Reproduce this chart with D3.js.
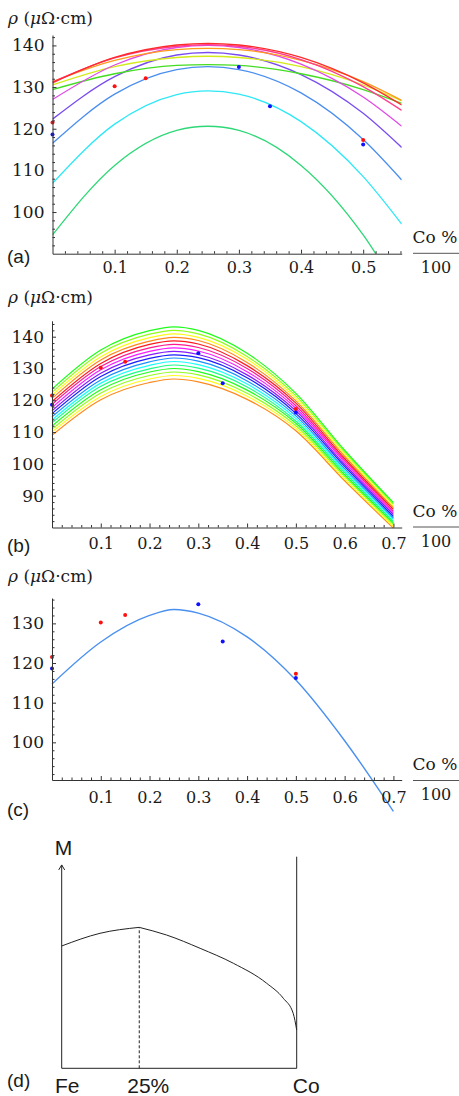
<!DOCTYPE html>
<html><head><meta charset="utf-8">
<script src="https://cdn.jsdelivr.net/npm/d3@7"></script>
<style>
body{margin:0;background:#fff;}
svg{display:block;}
</style></head><body>
<svg id="chart" width="459" height="1096"></svg>
<script>
// ---------------- DATA ----------------
// measured points (same in a, b, c)
const redX  = [0, 0.1, 0.15, 0.5];
const redY  = [121.5, 130.2, 132.1, 117.3];
const blueX = [0, 0.3, 0.35, 0.5];
const blueY = [118.6, 134.8, 125.4, 116.2];

// panel (a)
const xGridA = [0, 0.1, 0.2, 0.25, 0.3, 0.4, 0.5, 0.562];
const curveRedA     = [131.0, 137.1, 140.1, 140.5, 140.1, 137.1, 131.0, 125.7];
const curveRoseA    = [131.2, 137.0, 139.8, 140.2, 139.8, 136.6, 130.1, 124.4];
const curveOrangeA  = [131.3, 136.4, 139.0, 139.3, 139.0, 136.4, 131.3, 126.8];
const curveYellowA  = [130.5, 134.9, 137.1, 137.4, 137.1, 134.9, 130.5, 126.7];
const curveGreenA   = [129.4, 133.2, 135.2, 135.4, 135.2, 133.2, 129.4, 126.1];
const curveMagentaA = [127.0, 135.3, 139.5, 140.0, 139.5, 135.5, 127.6, 120.6];
const curvePurpleA  = [122.3, 132.5, 137.7, 138.3, 137.7, 133.0, 123.7, 115.5];
const curveBlueA    = [116.5, 128.3, 134.2, 134.9, 134.2, 128.6, 117.4, 107.7];
const curveCyanA    = [106.9, 121.1, 128.2, 129.1, 128.3, 121.7, 108.5, 97.1];
const curveSpringA  = [94.5, 111.2, 119.6, 120.6, 119.6, 111.2, 94.5, 79.9];
const xTicksA = [0.1, 0.2, 0.3, 0.4, 0.5];
const yTicksA = [100, 110, 120, 130, 140];

// panel (b): 16 curves, bottom (orange) to top (green)
const xGridB = [0, 0.1, 0.2, 0.25, 0.3, 0.4, 0.5, 0.6, 0.7];
const curvesB = [
  [109.0, 120.2, 125.6, 126.7, 125.8, 120.3, 110.4, 94.7, 79.8],
  [110.0, 121.2, 126.7, 127.8, 126.9, 121.3, 111.2, 95.3, 80.3],
  [110.9, 122.3, 127.8, 128.9, 128.0, 122.2, 112.0, 96.0, 80.9],
  [111.9, 123.3, 128.9, 130.0, 129.0, 123.2, 112.8, 96.6, 81.4],
  [112.9, 124.4, 129.9, 131.1, 130.1, 124.2, 113.5, 97.3, 81.9],
  [113.8, 125.4, 131.0, 132.2, 131.2, 125.1, 114.3, 97.9, 82.5],
  [114.8, 126.4, 132.1, 133.3, 132.3, 126.1, 115.1, 98.5, 83.0],
  [115.8, 127.5, 133.2, 134.3, 133.4, 127.1, 115.9, 99.2, 83.5],
  [116.7, 128.5, 134.3, 135.4, 134.4, 128.0, 116.7, 99.8, 84.1],
  [117.7, 129.6, 135.4, 136.5, 135.5, 129.0, 117.5, 100.5, 84.6],
  [118.7, 130.6, 136.5, 137.6, 136.6, 130.0, 118.3, 101.1, 85.1],
  [119.6, 131.6, 137.6, 138.7, 137.7, 130.9, 119.1, 101.7, 85.7],
  [120.6, 132.7, 138.6, 139.8, 138.8, 131.9, 119.8, 102.4, 86.2],
  [121.6, 133.7, 139.7, 140.9, 139.8, 132.9, 120.6, 103.0, 86.7],
  [122.5, 134.8, 140.8, 142.0, 140.9, 133.8, 121.4, 103.7, 87.3],
  [123.5, 135.8, 141.9, 143.1, 142.0, 134.8, 122.2, 104.3, 87.8]
];
const xTicksB = [0.1, 0.2, 0.3, 0.4, 0.5, 0.6, 0.7];
const yTicksB = [90, 100, 110, 120, 130, 140];

// panel (c)
const xGridC = [0, 0.1, 0.2, 0.25, 0.3, 0.4, 0.5, 0.6, 0.7];
const curveC = [114.7, 125.3, 132.0, 133.5, 132.6, 126.6, 115.7, 100.4, 82.6];
const xTicksC = [0.1, 0.2, 0.3, 0.4, 0.5, 0.6, 0.7];
const yTicksC = [100, 110, 120, 130];

// panel (d): schematic magnetization
const dLeftX  = [0, 0.163, 0.33];
const dLeftM  = [0.578, 0.638, 0.666];
const dRightX = [0.33, 0.446, 0.589, 0.731, 0.872, 0.943, 0.985, 1.0];
const dRightM = [0.666, 0.630, 0.567, 0.496, 0.402, 0.331, 0.260, 0.181];
const dLabels = ["Fe", "25%", "Co"];
const dLabelX = [0, 0.33, 1];

// ---------------- STYLE ----------------
const axisColor = "#333";
const textColor = "#1a1a1a";
const serif = "'DejaVu Serif', serif";
const sans = "'Liberation Sans', Arial, sans-serif";
const colorsA = ["#ff2a2a", "#ff3c8c", "#ff9a1a", "#d4ea1a", "#44dd22",
                 "#e04ae6", "#7a4cf0", "#4a8ef0", "#2ee8f5", "#2ed877"];
const curvesA = [curveRedA, curveRoseA, curveOrangeA, curveYellowA, curveGreenA,
                 curveMagentaA, curvePurpleA, curveBlueA, curveCyanA, curveSpringA];

const svg = d3.select("#chart");

function range(a, b, step) { const r = []; for (let v = a; v <= b + 1e-9; v += step) r.push(+v.toFixed(4)); return r; }
const fmtX = d3.format(".1f");

function drawAxes(g, xS, yS, xTicks, yTicks, xMinor, yMinor, xPad) {
  const yBase = yS.range()[0];
  const x0 = xS(0);
  const xa = g.append("g").attr("transform", `translate(0,${yBase})`)
    .call(d3.axisBottom(xS).tickValues(xTicks).tickFormat(fmtX).tickSizeInner(-4).tickSizeOuter(0).tickPadding(xPad));
  g.append("g").attr("transform", `translate(0,${yBase})`)
    .call(d3.axisBottom(xS).tickValues(xMinor).tickSizeInner(-2.5).tickSizeOuter(0).tickFormat(""))
    .call(s => s.select(".domain").remove());
  const ya = g.append("g").attr("transform", `translate(${x0},0)`)
    .call(d3.axisLeft(yS).tickValues(yTicks).tickFormat(d3.format("d")).tickSizeInner(-4).tickSizeOuter(0).tickPadding(8));
  g.append("g").attr("transform", `translate(${x0},0)`)
    .call(d3.axisLeft(yS).tickValues(yMinor).tickSizeInner(-2.5).tickSizeOuter(0).tickFormat(""))
    .call(s => s.select(".domain").remove());
  g.selectAll(".domain, .tick line").attr("stroke", axisColor).attr("stroke-width", 1);
  xa.selectAll("text").attr("font-family", serif).attr("font-size", 16).attr("fill", textColor);
  ya.selectAll("text").attr("font-family", serif).attr("font-size", 17).attr("fill", textColor);
}

function rhoLabel(y) {
  const t = svg.append("text").attr("x", 8).attr("y", y)
    .attr("font-family", serif).attr("font-size", 17).attr("fill", textColor);
  t.append("tspan").attr("font-style", "italic").text("ρ");
  t.append("tspan").text(" (");
  t.append("tspan").attr("font-style", "italic").text("μ");
  t.append("tspan").text("Ω·cm)");
}

function coFraction(axisY) {
  svg.append("text").attr("x", 435).attr("y", axisY - 16.5).attr("dominant-baseline", "central")
    .attr("text-anchor", "middle").attr("font-family", serif).attr("font-size", 17).attr("fill", textColor)
    .text("Co %");
  svg.append("line").attr("x1", 413).attr("x2", 459).attr("y1", axisY).attr("y2", axisY)
    .attr("stroke", "#555").attr("stroke-width", 1);
  svg.append("text").attr("x", 436).attr("y", axisY + 14).attr("dominant-baseline", "central")
    .attr("text-anchor", "middle").attr("font-family", serif).attr("font-size", 16).attr("fill", textColor)
    .text("100");
}

function panelLabel(txt, y) {
  svg.append("text").attr("x", 7).attr("y", y).attr("font-family", sans).attr("font-size", 19)
    .attr("fill", textColor).text(txt);
}

function dots(g, xS, yS) {
  g.selectAll(null).data(redX).join("circle")
    .attr("cx", (d) => xS(d)).attr("cy", (d, i) => yS(redY[i])).attr("r", 2).attr("fill", "#ff1010");
  g.selectAll(null).data(blueX).join("circle")
    .attr("cx", (d) => xS(d)).attr("cy", (d, i) => yS(blueY[i])).attr("r", 2).attr("fill", "#1010ff");
}

// ---------------- PANEL (a) ----------------
{
  const xS = d3.scaleLinear().domain([0, 0.562]).range([52.5, 401.7]);
  const yS = d3.scaleLinear().domain([90, 142.5]).range([253.7, 35]);
  const g = svg.append("g");
  svg.append("defs").append("clipPath").attr("id", "clipA").append("rect")
    .attr("x", xS(0)).attr("y", yS(142.5)).attr("width", xS(0.562) - xS(0)).attr("height", yS(90) - yS(142.5));
  const line = d3.line().x((d, i) => xS(xGridA[i])).y(d => yS(d)).curve(d3.curveMonotoneX);
  const cg = g.append("g").attr("clip-path", "url(#clipA)");
  const order = [9, 8, 7, 6, 4, 3, 5, 2, 1, 0];
  order.forEach(k => {
    cg.append("path").attr("d", line(curvesA[k])).attr("fill", "none")
      .attr("stroke", colorsA[k]).attr("stroke-width", 1.3);
  });
  dots(g, xS, yS);
  drawAxes(g, xS, yS, xTicksA, yTicksA, range(0.02, 0.56, 0.02).filter(v => Math.abs(v * 10 - Math.round(v * 10)) > 1e-6),
    range(90, 142, 2).filter(v => v % 10 !== 0), 8);
  rhoLabel(24);
  coFraction(yS(90) - 0.4);
  panelLabel("(a)", 263);
}

// ---------------- PANEL (b) ----------------
{
  const xS = d3.scaleLinear().domain([0, 0.717]).range([52, 401.7]);
  const yS = d3.scaleLinear().domain([80, 145]).range([527.5, 320.8]);
  const g = svg.append("g");
  const line = d3.line().x((d, i) => xS(xGridB[i])).y(d => yS(d)).curve(d3.curveMonotoneX);
  curvesB.forEach((c, i) => {
    const h = ((0.08 + i / 12) % 1) * 360;
    g.append("path").attr("d", line(c)).attr("fill", "none")
      .attr("stroke", d3.hsl(h, 1, 0.55).formatHex()).attr("stroke-width", 1.2);
  });
  dots(g, xS, yS);
  drawAxes(g, xS, yS, xTicksB, yTicksB, range(0.02, 0.7, 0.02).filter(v => Math.abs(v * 10 - Math.round(v * 10)) > 1e-6),
    range(82, 144, 2).filter(v => v % 10 !== 0), 10);
  rhoLabel(302.5);
  coFraction(yS(80) - 0.5);
  panelLabel("(b)", 552);
}

// ---------------- PANEL (c) ----------------
{
  const xS = d3.scaleLinear().domain([0, 0.717]).range([52, 401.7]);
  const yS = d3.scaleLinear().domain([90.5, 136.4]).range([780, 598]);
  const g = svg.append("g");
  const line = d3.line().x((d, i) => xS(xGridC[i])).y(d => yS(d)).curve(d3.curveMonotoneX);
  g.append("path").attr("d", line(curveC)).attr("fill", "none")
    .attr("stroke", "#4a90f0").attr("stroke-width", 1.4);
  dots(g, xS, yS);
  drawAxes(g, xS, yS, xTicksC, yTicksC, range(0.02, 0.7, 0.02).filter(v => Math.abs(v * 10 - Math.round(v * 10)) > 1e-6),
    range(92, 136, 2).filter(v => v % 10 !== 0), 12);
  rhoLabel(582);
  coFraction(780.5);
  panelLabel("(c)", 816);
}

// ---------------- PANEL (d) ----------------
{
  const xS = d3.scaleLinear().domain([0, 1]).range([61.7, 296.7]);
  const yS = d3.scaleLinear().domain([0, 1]).range([1068.3, 856.7]);
  const g = svg.append("g").attr("fill", "none").attr("stroke", "#222").attr("stroke-width", 1);
  // y axis with arrow
  g.append("line").attr("x1", xS(0)).attr("x2", xS(0)).attr("y1", yS(0)).attr("y2", yS(0.961));
  g.append("path").attr("d", `M${xS(0) - 3},${yS(0.961) + 5}L${xS(0)},${yS(0.961)}L${xS(0) + 3},${yS(0.961) + 5}`);
  // bottom and right
  g.append("line").attr("x1", xS(0)).attr("x2", xS(1)).attr("y1", yS(0)).attr("y2", yS(0));
  g.append("line").attr("x1", xS(1)).attr("x2", xS(1)).attr("y1", yS(0)).attr("y2", yS(1));
  // dashed at 25%
  g.append("line").attr("x1", xS(0.33)).attr("x2", xS(0.33)).attr("y1", yS(0)).attr("y2", yS(0.666))
    .attr("stroke-dasharray", "3,2");
  const lineL = d3.line().x((d, i) => xS(dLeftX[i])).y(d => yS(d)).curve(d3.curveMonotoneX);
  const lineR = d3.line().x((d, i) => xS(dRightX[i])).y(d => yS(d)).curve(d3.curveMonotoneX);
  g.append("path").attr("d", lineL(dLeftM));
  g.append("path").attr("d", lineR(dRightM));
  svg.append("text").attr("x", 63.5).attr("y", 855).attr("text-anchor", "middle")
    .attr("font-family", sans).attr("font-size", 21).attr("fill", textColor).text("M");
  const offs = [5.5, 9, 9.5];
  dLabels.forEach((t, i) => {
    svg.append("text").attr("x", xS(dLabelX[i]) + offs[i]).attr("y", 1093).attr("text-anchor", "middle")
      .attr("font-family", sans).attr("font-size", 21).attr("fill", textColor).text(t);
  });
  panelLabel("(d)", 1087);
}
</script>
</body></html>
